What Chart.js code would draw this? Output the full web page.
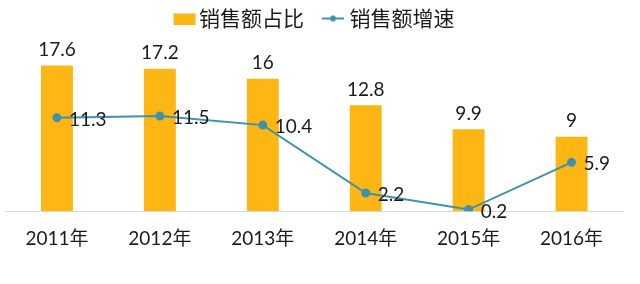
<!DOCTYPE html>
<html>
<head>
<meta charset="utf-8">
<script src="https://cdn.jsdelivr.net/npm/chart.js@4/dist/chart.umd.min.js"></script>
<style>
  html, body { margin: 0; padding: 0; background: #fff; }
  #wrap { width: 640px; height: 284px; }
</style>
</head>
<body>
<div id="wrap"><canvas id="salesChart" width="640" height="284"></canvas></div>
<script>
// 数据
const years = ['2011年', '2012年', '2013年', '2014年', '2015年', '2016年'];
const shareValues = [17.6, 17.2, 16, 12.8, 9.9, 9];
const growthValues = [11.3, 11.5, 10.4, 2.2, 0.2, 5.9];
const seriesNames = ['销售额占比', '销售额增速'];

const barColor = '#FDB614';
const lineColor = '#3D93AB';
const textColor = '#1a1a1a';
const numFont = "Lato, 'Noto Sans', sans-serif";
const cjkFont = "'Noto Sans CJK SC', sans-serif";

// 图例图标: 画布比图例框宽, 居中绘制, 用偏移控制图标和文字的间距
function makeIcon(draw) {
    const c = document.createElement('canvas');
    c.width = 44;
    c.height = 12;
    draw(c.getContext('2d'));
    return c;
}
const barIcon = makeIcon(ctx => {
    ctx.fillStyle = barColor;
    ctx.fillRect(15, 1, 22, 11);
});
const lineIcon = makeIcon(ctx => {
    ctx.strokeStyle = lineColor;
    ctx.lineWidth = 2;
    ctx.beginPath();
    ctx.moveTo(13, 6);
    ctx.lineTo(35, 6);
    ctx.stroke();
    ctx.fillStyle = lineColor;
    ctx.beginPath();
    ctx.arc(24, 6, 3, 0, Math.PI * 2);
    ctx.fill();
});

// 数据标签
const valueLabels = {
    id: 'valueLabels',
    afterDatasetsDraw(chart) {
        const ctx = chart.ctx;
        ctx.save();
        ctx.fillStyle = textColor;
        ctx.font = '19px ' + numFont;

        chart.getDatasetMeta(0).data.forEach((bar, i) => {
            ctx.textAlign = 'center';
            ctx.textBaseline = 'bottom';
            ctx.fillText(String(shareValues[i]), bar.x, bar.y - 6);
        });

        chart.getDatasetMeta(1).data.forEach((pt, i) => {
            ctx.textAlign = 'left';
            ctx.textBaseline = 'middle';
            ctx.fillText(String(growthValues[i]), pt.x + 12, pt.y + 2);
        });
        ctx.restore();
    }
};

const ctx = document.getElementById('salesChart').getContext('2d');
const chart = new Chart(ctx, {
    type: 'bar',
    data: {
        labels: years,
        datasets: [
            {
                type: 'bar',
                label: seriesNames[0],
                data: shareValues,
                backgroundColor: barColor,
                barPercentage: 0.31,
                categoryPercentage: 1,
                order: 1
            },
            {
                type: 'line',
                label: seriesNames[1],
                data: growthValues,
                borderColor: lineColor,
                backgroundColor: lineColor,
                borderWidth: 2,
                pointRadius: 3.5,
                pointHoverRadius: 3.5,
                tension: 0,
                order: 0
            }
        ]
    },
    options: {
        responsive: false,
        animation: false,
        devicePixelRatio: 1,
        layout: {
            padding: { left: 4, right: 17, top: -11, bottom: 18 }
        },
        plugins: {
            legend: {
                display: true,
                position: 'top',
                labels: {
                    usePointStyle: true,
                    pointStyleWidth: 16,
                    padding: 19,
                    color: textColor,
                    font: { family: cjkFont, size: 21 },
                    sort: (a, b) => a.datasetIndex - b.datasetIndex,
                    generateLabels(chart) {
                        const items = Chart.defaults.plugins.legend.labels.generateLabels(chart);
                        items.forEach(item => {
                            item.pointStyle = item.datasetIndex === 0 ? barIcon : lineIcon;
                        });
                        return items;
                    }
                }
            },
            tooltip: { enabled: false }
        },
        scales: {
            x: {
                grid: { display: false, drawTicks: false },
                border: { display: true, color: '#d9d9d9', width: 1 },
                ticks: {
                    color: textColor,
                    padding: 16,
                    font: { family: numFont + ", " + cjkFont, size: 19 }
                }
            },
            y: {
                display: false,
                min: 0,
                max: 20.8
            }
        }
    },
    plugins: [valueLabels]
});
</script>
</body>
</html>
